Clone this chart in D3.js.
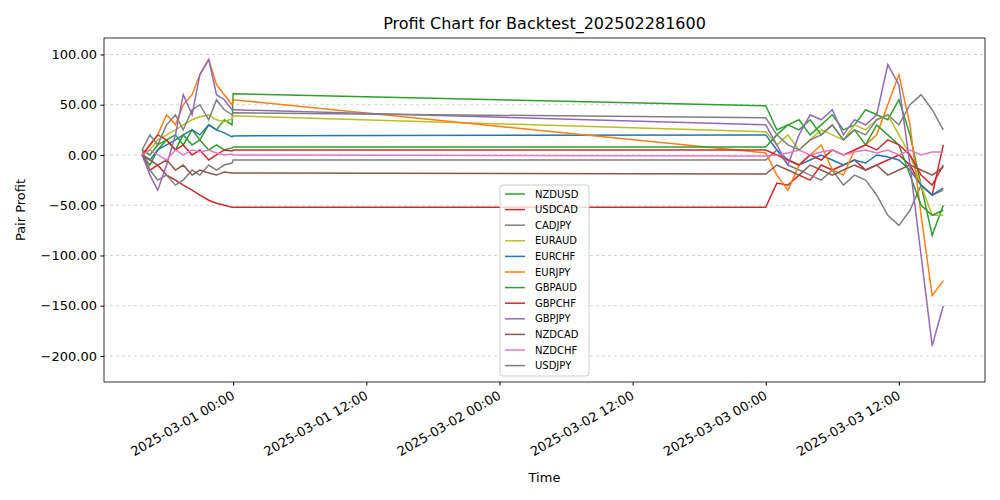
<!DOCTYPE html>
<html><head><meta charset="utf-8">
<script src="https://cdn.jsdelivr.net/npm/d3@7"></script>
<style>body{margin:0;background:#fff;font-family:"DejaVu Sans",sans-serif}</style>
</head><body><svg id="c" width="1000" height="500"></svg>
<script>
const names=["NZDUSD","USDCAD","CADJPY","EURAUD","EURCHF","EURJPY","GBPAUD","GBPCHF","GBPJPY","NZDCAD","NZDCHF","USDJPY"];
const colors=["#2ca02c","#d62728","#7f7f7f","#bcbd22","#1f77b4","#ff7f0e","#2ca02c","#d62728","#9467bd","#8c564b","#e377c2","#7f7f7f"];
// hours since 2025-02-28 00:00
const T1=[15.8,16.5,17.2,18,18.8,19.5,20.3,21,21.8,22.5,23.2,23.9,24.0];
const T2=[72,73,74,75,76,77,78,79,80,81,82,83,84,85,86,87,88];
const S1=[
[0,-10,5,15,20,10,25,15,30,25,35,30,61],
[0,-15,-10,-20,-25,-30,-35,-40,-45,-48,-50,-52,-52],
[5,-15,-25,-20,-30,-25,-15,-20,-10,-15,-10,-8,-5],
[0,5,15,20,25,30,35,38,40,35,33,36,39],
[0,-5,5,10,15,20,25,20,30,25,22,18,19],
[0,10,20,40,30,50,60,80,95,70,60,50,55],
[5,0,10,15,5,20,10,15,5,10,5,7,8],
[0,10,20,15,5,10,0,5,-5,0,5,4,5],
[0,-20,-35,-10,20,60,40,80,95,60,55,45,45],
[0,-5,-10,-5,-15,-10,-20,-15,-18,-20,-17,-18,-18],
[0,5,0,-5,5,0,5,3,5,2,0,1,0],
[5,20,10,30,40,25,45,50,35,55,45,40,42]];
const S2=[
[49,25,30,35,20,30,40,25,30,45,40,35,55,20,-30,-80,-50],
[-52,-28,-30,-20,-25,-10,-15,-10,-5,-15,-10,-5,0,-10,-30,-40,10],
[-5,5,-10,-15,-20,-25,-15,-30,-20,-25,-40,-60,-70,-55,-30,-40,-35],
[23,10,20,5,15,25,20,15,30,25,35,40,20,0,-30,-60,-60],
[20,5,-5,-10,-5,0,-5,-10,-5,-8,0,-2,-5,-15,-30,-40,-33],
[2,-20,-35,-10,0,10,-15,-20,5,10,20,50,80,30,-60,-140,-125],
[8,20,30,25,35,20,30,15,25,10,30,20,10,-20,-50,-60,-55],
[5,0,-5,-10,0,-5,5,0,5,10,5,15,10,0,-20,-30,-10],
[30,10,-10,20,40,35,45,20,35,30,40,90,70,-10,-100,-190,-150],
[-19,-10,-15,-20,-10,-15,-20,-15,-10,-15,-10,-20,-15,-10,-15,-20,-12],
[-1,0,2,5,0,3,5,0,3,5,2,5,0,5,0,3,3],
[37,20,10,5,15,20,30,15,25,20,35,40,30,50,60,45,25]];
const yTicks=[-200,-150,-100,-50,0,50,100];
const xTickHours=[24,36,48,60,72,84];

const svg=d3.select("#c");
const L=104,R=985,T=38,B=382;
const base=new Date(2025,1,28,0,0);
const toD=h=>new Date(base.getTime()+h*3600e3);
const x=d3.scaleTime().domain([toD(12.36),toD(91.76)]).range([L,R]);
const y=d3.scaleLinear().domain([-225.9,116.4]).range([B,T]);
const g=svg.append("g");
g.selectAll("line.gr").data(yTicks).join("line").attr("x1",L).attr("x2",R)
 .attr("y1",d=>y(d)).attr("y2",d=>y(d)).attr("stroke","#b0b0b0").attr("stroke-width",0.8).attr("stroke-dasharray","3,3").attr("opacity",0.7);
const line=d3.line().x(d=>x(toD(d[0]))).y(d=>y(d[1]));
names.forEach((n,i)=>{
  const pts=T1.map((t,j)=>[t,S1[i][j]]).concat(T2.map((t,j)=>[t,S2[i][j]]));
  g.append("path").attr("d",line(pts)).attr("fill","none").attr("stroke",colors[i]).attr("stroke-width",1.5);
});
svg.append("rect").attr("x",L).attr("y",T).attr("width",R-L).attr("height",B-T).attr("fill","none").attr("stroke","#000").attr("stroke-width",0.8);
const ya=svg.append("g").attr("transform",`translate(${L},0)`).call(d3.axisLeft(y).tickValues(yTicks).tickFormat(d3.format(".2f")).tickSize(3.5).tickPadding(3.5));
ya.select(".domain").remove();
ya.selectAll("text").attr("font-size",13).attr("font-family","DejaVu Sans").attr("fill","#000");
const fmt=d3.timeFormat("%Y-%m-%d %H:%M");
const xa=svg.append("g").attr("transform",`translate(0,${B})`).call(d3.axisBottom(x).tickValues(xTickHours.map(toD)).tickFormat(fmt).tickSize(3.5));
xa.select(".domain").remove();
xa.selectAll("text").attr("font-size",13).attr("font-family","DejaVu Sans").attr("fill","#000")
 .attr("text-anchor","end").attr("x",0).attr("y",0).attr("dy","0").attr("transform","translate(2,16) rotate(-30)");
svg.append("text").attr("x",(L+R)/2).attr("y",482).attr("text-anchor","middle").attr("font-size",13).text("Time");
svg.append("text").attr("x",(L+R)/2).attr("y",29).attr("text-anchor","middle").attr("font-size",16).text("Profit Chart for Backtest_202502281600");
svg.append("text").attr("transform",`translate(25,${(T+B)/2}) rotate(-90)`).attr("text-anchor","middle").attr("font-size",13).text("Pair Profit");
const lg=svg.append("g").attr("transform","translate(500,185)");
lg.append("rect").attr("width",89).attr("height",191).attr("rx",3).attr("fill","#fff").attr("fill-opacity",0.8).attr("stroke","#ccc");
names.forEach((n,i)=>{
  const yy=9+i*15.6;
  lg.append("line").attr("x1",5).attr("x2",25).attr("y1",yy).attr("y2",yy).attr("stroke",colors[i]).attr("stroke-width",1.5);
  lg.append("text").attr("x",35).attr("y",yy+3.5).attr("font-size",10).text(n);
});
</script></body></html>
